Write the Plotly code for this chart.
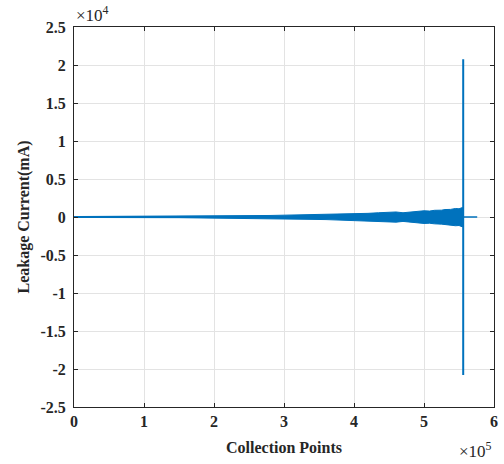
import plotly.graph_objects as go

# Envelope of the oscillating leakage current
env_x = [0, 0.5e5, 1.0e5, 1.5e5, 2.0e5, 2.4e5, 2.8e5, 3.0e5, 3.3e5, 3.6e5, 3.8e5, 4.0e5, 4.2e5,
         4.35e5, 4.45e5, 4.6e5, 4.7e5, 4.8e5, 4.9e5, 5.0e5, 5.08e5, 5.15e5, 5.25e5, 5.3e5,
         5.38e5, 5.45e5, 5.5e5, 5.55e5]
env_upper = [60, 70, 80, 90, 110, 140, 200, 240, 280, 330, 360, 420, 480,
             560, 600, 660, 560, 640, 760, 820, 780, 880, 900, 980,
             1000, 1120, 1080, 1250]
env_lower = [-60, -70, -80, -90, -110, -150, -210, -250, -300, -340, -380, -430, -500,
             -560, -620, -680, -580, -660, -780, -850, -820, -900, -940, -1000,
             -1050, -1150, -1120, -1300]

# Fault spike and post-fault tail
spike_x = [5.56e5, 5.56e5]
spike_y = [20750, -20800]
tail_x = [5.56e5, 5.76e5]
tail_y = [0, 0]
base_x = [0, 5.56e5]
base_y = [0, 0]

x_ticks = [0, 1e5, 2e5, 3e5, 4e5, 5e5, 6e5]
x_labels = ["0", "1", "2", "3", "4", "5", "6"]
y_ticks = [-25000, -20000, -15000, -10000, -5000, 0, 5000, 10000, 15000, 20000, 25000]
y_labels = ["-2.5", "-2", "-1.5", "-1", "-0.5", "0", "0.5", "1", "1.5", "2", "2.5"]

blue = "#0072BD"
fig = go.Figure()
fig.add_trace(go.Scatter(x=env_x + env_x[::-1], y=env_upper + env_lower[::-1],
                         fill="toself", fillcolor=blue, mode="lines",
                         line=dict(color=blue, width=1), hoverinfo="skip"))
fig.add_trace(go.Scatter(x=base_x, y=base_y, mode="lines", line=dict(color=blue, width=2)))
fig.add_trace(go.Scatter(x=tail_x, y=tail_y, mode="lines", line=dict(color=blue, width=1.5)))
fig.add_trace(go.Scatter(x=spike_x, y=spike_y, mode="lines", line=dict(color=blue, width=2)))

font = dict(family="Liberation Serif", size=16, color="#262626")
axis_common = dict(showgrid=True, gridcolor="#E3E3E3", gridwidth=1,
                   showline=True, linecolor="#262626", linewidth=1, mirror="ticks",
                   ticks="inside", ticklen=4, tickcolor="#262626", zeroline=False,
                   tickfont=dict(family="Liberation Serif", size=16, color="#262626", weight="bold"))

fig.update_layout(
    width=504, height=464, showlegend=False,
    margin=dict(l=74, r=6, t=27, b=57),
    plot_bgcolor="white", paper_bgcolor="white",
    font=font,
    xaxis=dict(range=[0, 6e5], tickvals=x_ticks, ticktext=x_labels,
               title=dict(text="<b>Collection Points</b>", standoff=12,
                          font=dict(family="Liberation Serif", size=16, color="#262626")),
               **axis_common),
    yaxis=dict(range=[-25000, 25000], tickvals=y_ticks, ticktext=y_labels,
               title=dict(text="<b>Leakage Current(mA)</b>", standoff=6,
                          font=dict(family="Liberation Serif", size=16, color="#262626")),
               ticklabelstandoff=4,
               **axis_common),
    annotations=[
        dict(text="×10<sup>4</sup>", xref="paper", yref="paper", x=0.0, y=1.0,
             xanchor="left", yanchor="bottom", showarrow=False,
             font=dict(family="Liberation Serif", size=17, color="#262626")),
        dict(text="×10<sup>5</sup>", xref="paper", yref="paper", x=1.0, y=-0.113,
             xanchor="right", yanchor="middle", showarrow=False,
             font=dict(family="Liberation Serif", size=17, color="#262626")),
    ],
)
fig.write_html("out.html")
